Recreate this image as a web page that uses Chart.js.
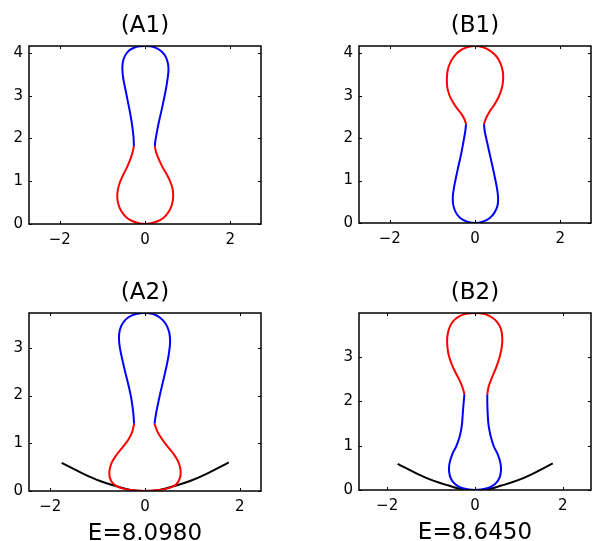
<!DOCTYPE html>
<html>
<head>
<meta charset="utf-8">
<script src="https://cdn.jsdelivr.net/npm/chart.js@4"></script>
<style>
  html, body { margin: 0; padding: 0; background: #fff; }
  #wrap { position: relative; width: 593px; height: 541px; overflow: hidden; }
  canvas { position: absolute; }
</style>
</head>
<body>
<div id="wrap">
  <canvas id="a1" width="296" height="260" style="left:0px;top:0px"></canvas>
  <canvas id="b1" width="263" height="260" style="left:330px;top:0px"></canvas>
  <canvas id="a2" width="296" height="274" style="left:0px;top:267px"></canvas>
  <canvas id="b2" width="263" height="274" style="left:330px;top:267px"></canvas>
</div>
<script>
// tick values
const xTicks = [-2, 0, 2];
const yTicksTop = [0, 1, 2, 3, 4];
const yTicksBottom = [0, 1, 2, 3];

// panel titles and energies
const titles = ['(A1)', '(B1)', '(A2)', '(B2)'];
const energies = ['', '', 'E=8.0980', 'E=8.6450'];

// (A1) shape: upper part blue, lower part red  [x, y]
const a1Upper = [[-0.26,1.82],[-0.27,2.04],[-0.30,2.30],[-0.35,2.60],[-0.41,2.90],[-0.46,3.15],[-0.51,3.40],
  [-0.53,3.60],[-0.52,3.78],[-0.47,3.93],[-0.38,4.05],[-0.26,4.12],[-0.13,4.155],[0,4.16],[0.13,4.155],
  [0.27,4.11],[0.39,4.03],[0.49,3.90],[0.54,3.74],[0.55,3.58],[0.53,3.40],[0.49,3.15],[0.44,2.90],
  [0.38,2.62],[0.32,2.36],[0.27,2.10],[0.24,1.92],[0.23,1.82]];
const a1Lower = [[-0.26,1.82],[-0.29,1.68],[-0.34,1.52],[-0.42,1.33],[-0.51,1.15],[-0.59,0.97],[-0.64,0.78],
  [-0.65,0.62],[-0.62,0.45],[-0.55,0.29],[-0.44,0.16],[-0.30,0.07],[-0.15,0.02],[0,0],[0.15,0.02],
  [0.31,0.07],[0.45,0.16],[0.56,0.29],[0.63,0.45],[0.66,0.62],[0.65,0.80],[0.60,0.97],[0.51,1.16],
  [0.41,1.33],[0.32,1.52],[0.26,1.68],[0.23,1.82]];

// (B1) shape: upper part red, lower part blue
const b1Upper = [[-0.21,2.33],[-0.25,2.45],[-0.32,2.57],[-0.42,2.70],[-0.52,2.85],[-0.60,3.01],[-0.65,3.20],
  [-0.66,3.40],[-0.64,3.60],[-0.58,3.78],[-0.48,3.94],[-0.35,4.06],[-0.19,4.14],[0,4.17],[0.19,4.14],
  [0.35,4.06],[0.49,3.94],[0.59,3.78],[0.65,3.58],[0.66,3.38],[0.63,3.18],[0.56,2.98],[0.45,2.78],
  [0.34,2.62],[0.26,2.47],[0.21,2.33]];
const b1Lower = [[-0.21,2.33],[-0.23,2.15],[-0.27,1.92],[-0.32,1.65],[-0.38,1.38],[-0.44,1.10],[-0.49,0.85],
  [-0.52,0.62],[-0.51,0.42],[-0.45,0.25],[-0.34,0.11],[-0.18,0.03],[0,0],[0.18,0.03],[0.34,0.11],
  [0.46,0.25],[0.53,0.42],[0.54,0.62],[0.51,0.85],[0.46,1.10],[0.40,1.38],[0.34,1.65],[0.28,1.92],
  [0.23,2.15],[0.21,2.33]];

// (A2) shape: upper blue, lower red
const a2Upper = [[-0.23,1.41],[-0.25,1.66],[-0.29,1.94],[-0.35,2.22],[-0.42,2.50],[-0.48,2.76],[-0.53,3.00],
  [-0.55,3.20],[-0.53,3.38],[-0.46,3.53],[-0.35,3.64],[-0.19,3.71],[0,3.73],[0.17,3.71],[0.32,3.63],
  [0.44,3.50],[0.51,3.33],[0.53,3.12],[0.50,2.85],[0.44,2.55],[0.37,2.25],[0.30,1.95],[0.24,1.66],[0.20,1.41]];
const a2Lower = [[-0.23,1.41],[-0.27,1.24],[-0.35,1.08],[-0.47,0.92],[-0.60,0.76],[-0.70,0.60],[-0.75,0.43],
  [-0.74,0.27],[-0.66,0.14],[-0.50,0.06],[-0.30,0.02],[0,0],[0.30,0.02],[0.50,0.06],[0.66,0.14],
  [0.74,0.28],[0.75,0.45],[0.70,0.62],[0.60,0.78],[0.47,0.94],[0.35,1.10],[0.26,1.25],[0.20,1.41]];

// (B2) shape: upper red, lower blue
const b2Upper = [[-0.24,2.16],[-0.28,2.30],[-0.35,2.47],[-0.45,2.66],[-0.54,2.86],[-0.60,3.05],[-0.63,3.25],
  [-0.63,3.45],[-0.59,3.64],[-0.50,3.80],[-0.37,3.91],[-0.20,3.97],[0,3.99],[0.20,3.97],[0.37,3.90],
  [0.50,3.79],[0.59,3.63],[0.62,3.44],[0.61,3.22],[0.56,3.00],[0.48,2.76],[0.38,2.52],[0.31,2.33],[0.28,2.16]];
const b2Lower = [[-0.24,2.16],[-0.26,1.95],[-0.28,1.70],[-0.30,1.45],[-0.35,1.20],[-0.43,0.98],[-0.52,0.80],
  [-0.58,0.60],[-0.59,0.42],[-0.55,0.26],[-0.45,0.13],[-0.28,0.04],[0,0],[0.28,0.04],[0.45,0.13],
  [0.55,0.26],[0.59,0.42],[0.58,0.60],[0.52,0.80],[0.43,0.98],[0.36,1.20],[0.31,1.45],[0.29,1.70],
  [0.28,1.95],[0.28,2.16]];

// substrate curve (bottom panels)
const substrate = [[-1.76,0.59],[-1.30,0.36],[-0.95,0.21],[-0.60,0.10],[-0.30,0.02],[0,0],
  [0.30,0.02],[0.60,0.10],[0.95,0.21],[1.30,0.36],[1.77,0.60]];

const FONT = '"DejaVu Sans", sans-serif';
const toXY = arr => arr.map(p => ({ x: p[0], y: p[1] }));
const fmt = v => (v < 0 ? '\u2212' + Math.abs(v) : String(v));

// box, inward ticks, title and energy label
const framePlugin = {
  id: 'frame',
  afterDatasetsDraw(chart, args, opts) {
    const { ctx, chartArea: a, scales } = chart;
    ctx.save();
    ctx.strokeStyle = '#000';
    ctx.lineWidth = 1.5;
    ctx.strokeRect(a.left, a.top, a.right - a.left, a.bottom - a.top);
    ctx.lineWidth = 1;
    ctx.beginPath();
    scales.x.ticks.forEach(t => {
      const px = Math.round(scales.x.getPixelForValue(t.value)) + 0.5;
      ctx.moveTo(px, a.bottom); ctx.lineTo(px, a.bottom - 3);
      ctx.moveTo(px, a.top); ctx.lineTo(px, a.top + 3);
    });
    scales.y.ticks.forEach(t => {
      const py = Math.round(scales.y.getPixelForValue(t.value)) + 0.5;
      ctx.moveTo(a.left, py); ctx.lineTo(a.left + 3, py);
      ctx.moveTo(a.right, py); ctx.lineTo(a.right - 3, py);
    });
    ctx.stroke();
    ctx.fillStyle = '#000';
    ctx.textAlign = 'center';
    ctx.textBaseline = 'alphabetic';
    ctx.font = '23px ' + FONT;
    const cx = (a.left + a.right) / 2;
    ctx.fillText(opts.title, cx, a.top - 14);
    if (opts.energy) ctx.fillText(opts.energy, cx, a.bottom + 48.5);
    ctx.restore();
  }
};

function makePanel(id, p) {
  const datasets = [
    { data: toXY(p.upper), borderColor: p.upperColor },
    { data: toXY(p.lower), borderColor: p.lowerColor }
  ];
  if (p.substrate) datasets.push({ data: toXY(p.substrate), borderColor: '#000' });
  datasets.forEach(d => Object.assign(d, { showLine: true, pointRadius: 0, borderWidth: 2, tension: 0.4, fill: false }));

  new Chart(document.getElementById(id), {
    type: 'scatter',
    data: { datasets },
    plugins: [framePlugin],
    options: {
      responsive: false,
      animation: false,
      layout: { padding: { top: 46, right: p.padRight, left: 0, bottom: 0 } },
      plugins: {
        legend: { display: false },
        tooltip: { enabled: false },
        frame: { title: p.title, energy: p.energy }
      },
      scales: {
        x: {
          type: 'linear', min: -p.xHalf, max: p.xHalf,
          grid: { display: false, drawTicks: false },
          border: { display: false },
          afterBuildTicks: s => { s.ticks = xTicks.map(v => ({ value: v })); },
          afterFit: s => { s.height = p.xAxisH; },
          ticks: { padding: 7, color: '#000', font: { family: FONT, size: 15 }, callback: fmt }
        },
        y: {
          type: 'linear', min: 0, max: p.yMax,
          grid: { display: false, drawTicks: false },
          border: { display: false },
          afterBuildTicks: s => { s.ticks = p.yTicks.map(v => ({ value: v })); },
          afterFit: s => { s.width = 29; },
          ticks: { padding: 6, color: '#000', font: { family: FONT, size: 15 }, callback: fmt }
        }
      }
    }
  });
}

makePanel('a1', { title: titles[0], energy: energies[0], upper: a1Upper, lower: a1Lower,
  upperColor: '#0000ff', lowerColor: '#ff0000', xHalf: 2.72, yMax: 4.16, yTicks: yTicksTop, padRight: 35, xAxisH: 36 });
makePanel('b1', { title: titles[1], energy: energies[1], upper: b1Upper, lower: b1Lower,
  upperColor: '#ff0000', lowerColor: '#0000ff', xHalf: 2.72, yMax: 4.17, yTicks: yTicksTop, padRight: 2, xAxisH: 37 });
makePanel('a2', { title: titles[2], energy: energies[2], upper: a2Upper, lower: a2Lower, substrate,
  upperColor: '#0000ff', lowerColor: '#ff0000', xHalf: 2.45, yMax: 3.73, yTicks: yTicksBottom, padRight: 35, xAxisH: 50 });
makePanel('b2', { title: titles[3], energy: energies[3], upper: b2Upper, lower: b2Lower, substrate,
  upperColor: '#ff0000', lowerColor: '#0000ff', xHalf: 2.64, yMax: 3.99, yTicks: yTicksBottom, padRight: 2, xAxisH: 51 });
</script>
</body>
</html>
